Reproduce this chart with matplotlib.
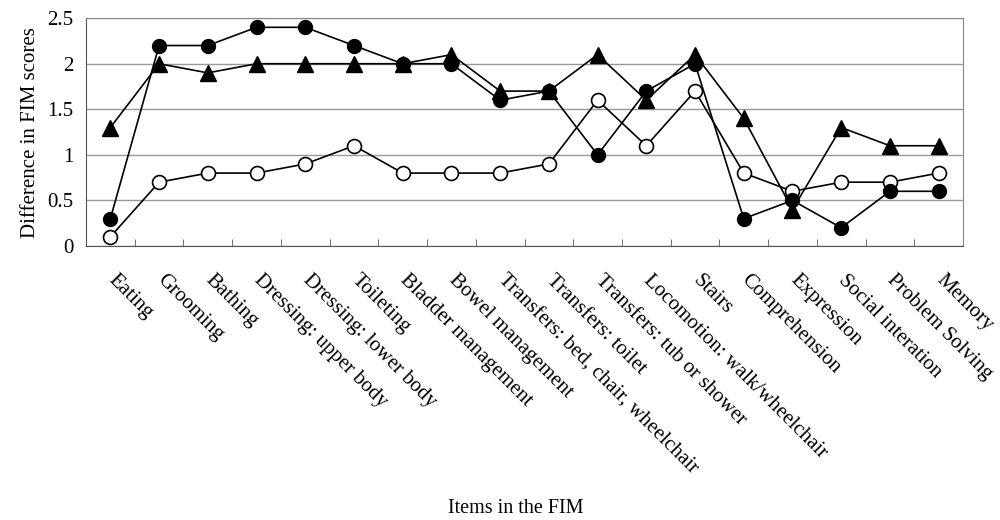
import matplotlib.pyplot as plt
import matplotlib.transforms as mtransforms
import numpy as np

plt.rcParams['font.family'] = ['Liberation Serif', 'DejaVu Serif']

items = ['Eating', 'Grooming', 'Bathing', 'Dressing: upper body', 'Dressing: lower body',
         'Toileting', 'Bladder management', 'Bowel management',
         'Transfers: bed, chair, wheelchair', 'Transfers: toilet', 'Transfers: tub or shower',
         'Locomotion: walk/wheelchair', 'Stairs', 'Comprehension', 'Expression',
         'Social interation', 'Problem Solving', 'Memory']
filled = [0.3, 2.2, 2.2, 2.4, 2.4, 2.2, 2.0, 2.0, 1.6, 1.7, 1.0, 1.7, 2.0, 0.3, 0.5, 0.2, 0.6, 0.6]
triangle = [1.3, 2.0, 1.9, 2.0, 2.0, 2.0, 2.0, 2.1, 1.7, 1.7, 2.1, 1.6, 2.1, 1.4, 0.4, 1.3, 1.1, 1.1]
opened = [0.1, 0.7, 0.8, 0.8, 0.9, 1.1, 0.8, 0.8, 0.8, 0.9, 1.6, 1.1, 1.7, 0.8, 0.6, 0.7, 0.7, 0.8]

x = np.arange(len(items))

fig = plt.figure(figsize=(10, 5.2), dpi=100)
ax = fig.add_axes([0.086, 0.527, 0.877, 0.438])

ax.plot(x, opened, color='black', lw=1.2, marker='o', ms=10, mfc='white', mec='black', mew=1.2, zorder=3)
ax.plot(x, filled, color='black', lw=1.2, marker='o', ms=10, mfc='black', mec='black', zorder=4)
ax.plot(x, triangle, color='black', lw=1.2, marker='^', ms=11, mfc='black', mec='black', zorder=5)

ax.set_xlim(-0.5, len(items) - 0.5)
ax.set_ylim(0, 2.5)
ax.set_yticks([0, 0.5, 1, 1.5, 2, 2.5])
ax.set_yticklabels(['0', '0.5', '1', '1.5', '2', '2.5'])
ax.yaxis.grid(True, color='#999999', lw=1)
ax.set_axisbelow(True)

ax.set_xticks(x)
ax.set_xticklabels(items, rotation=-45, ha='left', va='top', rotation_mode='anchor')
ax.set_xticks(np.arange(0.5, len(items) - 1, 1), minor=True)
ax.tick_params(axis='x', which='major', length=0, pad=18, labelsize=15)
ax.tick_params(axis='x', which='minor', direction='in', length=5, color='#555555')
ax.tick_params(axis='y', length=0, pad=9, labelsize=15)

# nudge the slanted item names to the right, as in the original
shift = mtransforms.ScaledTranslation(7 / 100, 0, fig.dpi_scale_trans)
for lbl in ax.get_xticklabels():
    lbl.set_transform(lbl.get_transform() + shift)

for side in ['top', 'right']:
    ax.spines[side].set_color('#888888')
for side in ['left', 'bottom']:
    ax.spines[side].set_color('#555555')

ax.set_ylabel('Difference in FIM scores', fontsize=15, labelpad=5)
fig.text(0.516, 0.004, 'Items in the FIM', ha='center', va='bottom', fontsize=14.5)

fig.savefig('out.png')
